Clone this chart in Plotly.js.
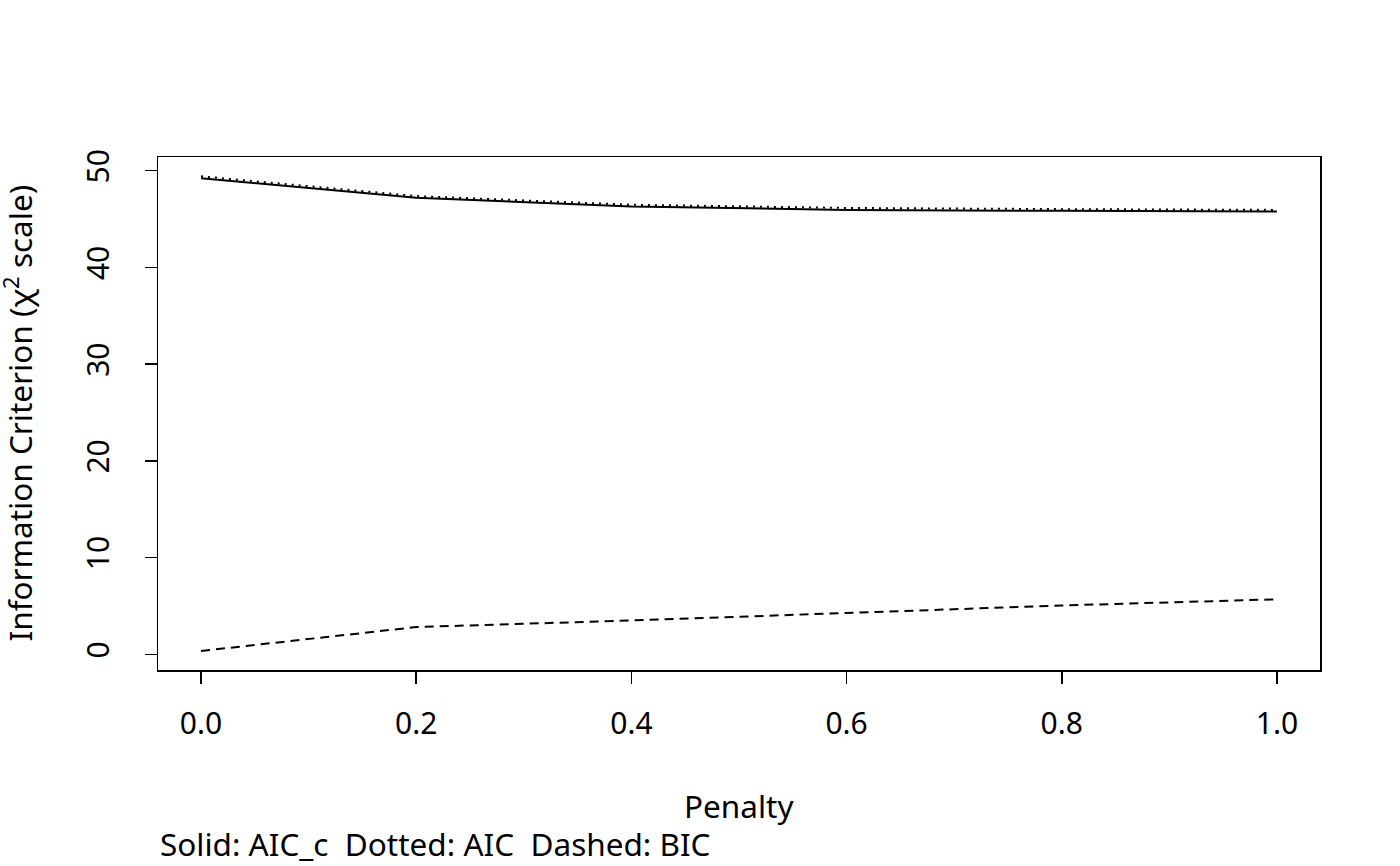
<!DOCTYPE html>
<html>
<head>
<meta charset="utf-8">
<script src="https://cdn.plot.ly/plotly-3.0.1.min.js"></script>
<style>
  body { margin: 0; background: #fff; }
  #plot { width: 1400px; height: 866px; }
</style>
</head>
<body>
<div id="plot"></div>
<script>
// penalty grid and the three information criteria
let penalty = [0, 0.2, 0.4, 0.6, 0.8, 1.0]
let aicc = [49.22, 47.2, 46.3, 45.95, 45.85, 45.78]
let aic = [49.42, 47.38, 46.48, 46.15, 46.03, 45.95]
let bic = [0.35, 2.82, 3.5, 4.27, 5.05, 5.69]
let xTicks = [0, 0.2, 0.4, 0.6, 0.8, 1.0]
let xTickText = ["0.0", "0.2", "0.4", "0.6", "0.8", "1.0"]
let yTicks = [0, 10, 20, 30, 40, 50]

let fontFam = 'Noto Sans, Open Sans, sans-serif'
let nb = '\u00A0 '   // double space that svg will not collapse

function lineTrace(y, dash, name) {
    return {
        x: penalty,
        y: y,
        type: 'scatter',
        mode: 'lines',
        name: name,
        line: { color: '#000000', width: 2, dash: dash },
        hoverinfo: 'x+y'
    }
}

let traces = [
    lineTrace(aicc, 'solid', 'AIC_c'),
    lineTrace(aic, '2px,5px', 'AIC'),
    lineTrace(bic, '9px,6px', 'BIC')
]

let layout = {
    width: 1400,
    height: 866,
    margin: { l: 158, r: 80, t: 157, b: 196 },
    paper_bgcolor: '#ffffff',
    plot_bgcolor: '#ffffff',
    showlegend: false,
    font: { family: fontFam, size: 30, color: '#000000' },
    xaxis: {
        range: [-0.04, 1.04],
        tickvals: xTicks,
        ticktext: xTickText,
        ticks: 'outside',
        ticklen: 12,
        tickwidth: 1.5,
        tickcolor: '#000000',
        ticklabelstandoff: 14,
        showline: true,
        linecolor: '#000000',
        linewidth: 1.5,
        mirror: true,
        showgrid: false,
        zeroline: false,
        tickfont: { family: fontFam, size: 30 }
    },
    yaxis: {
        range: [-1.62, 51.42],
        tickvals: yTicks,
        ticks: 'outside',
        ticklen: 12,
        tickwidth: 1.5,
        tickcolor: '#000000',
        tickangle: -90,
        ticklabelstandoff: 24,
        showline: true,
        linecolor: '#000000',
        linewidth: 1.5,
        mirror: true,
        showgrid: false,
        zeroline: false,
        tickfont: { family: fontFam, size: 30 }
    },
    annotations: [
        {
            text: 'Penalty',
            xref: 'paper', yref: 'paper',
            x: 0.5, y: 0, yshift: -135,
            xanchor: 'center', yanchor: 'middle',
            showarrow: false,
            font: { family: fontFam, size: 31.5 }
        },
        {
            text: 'Solid: AIC_c' + nb + 'Dotted: AIC' + nb + 'Dashed: BIC',
            xref: 'paper', yref: 'paper',
            x: 0, y: 0, yshift: -173,
            xanchor: 'left', yanchor: 'middle',
            showarrow: false,
            font: { family: fontFam, size: 31.5 }
        },
        {
            text: 'Information Criterion (χ<sup>2</sup> scale)',
            xref: 'paper', yref: 'paper',
            x: 0, y: 0.5, xshift: -141,
            xanchor: 'center', yanchor: 'middle',
            textangle: -90,
            showarrow: false,
            font: { family: fontFam, size: 31.5 }
        }
    ]
}

Plotly.newPlot('plot', traces, layout, { displayModeBar: false, staticPlot: true })
</script>
</body>
</html>
